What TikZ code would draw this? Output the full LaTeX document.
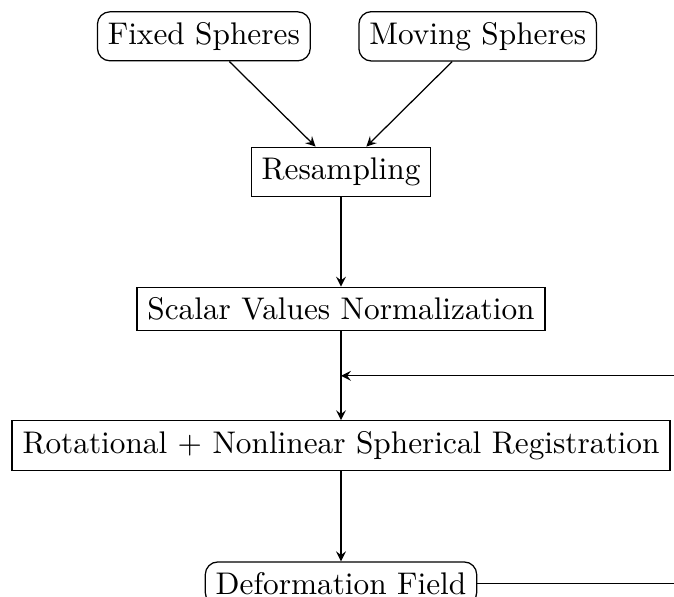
\documentclass[tikz,border=0pt]{standalone}
\usepackage{amsmath}
\usepackage{tikz}
\usetikzlibrary{shapes,arrows,positioning,calc}

\begin{document}
\begin{tikzpicture}[
    data/.style={rectangle, rounded corners, draw=black},
    process/.style={rectangle, draw=black},
    arrow/.style={->, >=stealth}
]

\useasboundingbox (-3.829,-1.690) rectangle (3.739,5.003);

% Input spheres
\node[data] (fixed) at (-1.54, 4.595) {Fixed Spheres};
\node[data] (moving) at (1.535, 4.595) {Moving Spheres};

% Processing steps
\node[process] (resampling) at (0, 3.075) {Resampling};
\node[process] (normalization) at (0, 1.533) {Scalar Values Normalization};
\node[process] (registration) at (0, 0) {Rotational + Nonlinear Spherical Registration};

% Output
\node[data] (deformation) at (0, -1.55) {Deformation Field};

% Feedback point
\coordinate (feedin) at ($(normalization.south)!0.5!(registration.north)$);

% Arrows
\draw[arrow] (fixed) -- (resampling);
\draw[arrow] (moving) -- (resampling);
\draw[arrow] (resampling) -- (normalization);
\draw[arrow] (normalization) -- (registration);
\draw[arrow] (registration) -- (deformation);

% Feedback loop
\draw[arrow] (deformation.east) -- ++(2.6,0) |- (feedin);

\end{tikzpicture}
\end{document}
